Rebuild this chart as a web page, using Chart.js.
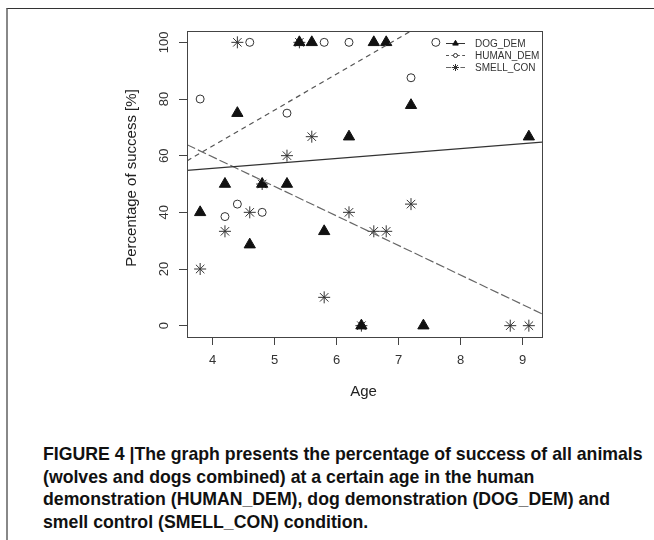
<!DOCTYPE html>
<html><head><meta charset="utf-8">
<script src="https://cdn.jsdelivr.net/npm/chart.js@4/dist/chart.umd.min.js"></script>
<style>
html,body{margin:0;padding:0;background:#fff;}
body{width:654px;height:540px;position:relative;overflow:hidden;font-family:"Liberation Sans",Arial,sans-serif;}
#frame{position:absolute;left:6px;top:8px;width:660px;height:600px;border-top:1px solid #333;border-left:2px solid #888;}
#wrap{position:absolute;left:0;top:0;width:654px;height:420px;}
#cap{position:absolute;left:43px;top:443px;font-weight:bold;font-size:17.7px;line-height:22.6px;color:#111;white-space:nowrap;}
</style></head>
<body>
<div id="frame"></div>
<div id="wrap"><canvas id="c" width="654" height="420"></canvas></div>
<div id="cap">FIGURE 4 |The graph presents the percentage of success of all animals<br>(wolves and dogs combined) at a certain age in the human<br>demonstration (HUMAN_DEM), dog demonstration (DOG_DEM) and<br>smell control (SMELL_CON) condition.</div>
<script>
// ---- data ----
const seriesNames = ['DOG_DEM', 'HUMAN_DEM', 'SMELL_CON'];
const dogAge   = [3.8, 4.2, 4.4, 4.6, 4.8, 5.2, 5.4, 5.6, 5.8, 6.2, 6.4, 6.6, 6.8, 7.2, 7.4, 9.1];
const dogPct   = [40, 50, 75, 28.6, 50, 50, 100, 100, 33.3, 66.7, 0, 100, 100, 77.8, 0, 66.7];
const humanAge = [3.8, 4.2, 4.4, 4.6, 4.8, 5.2, 5.8, 6.2, 7.2, 7.6];
const humanPct = [80, 38.5, 42.9, 100, 40, 75, 100, 100, 87.5, 100];
const smellAge = [3.8, 4.2, 4.4, 4.6, 4.8, 5.2, 5.4, 5.6, 5.8, 6.2, 6.4, 6.6, 6.8, 7.2, 8.8, 9.1];
const smellPct = [20, 33.3, 100, 40, 50, 60, 100, 66.7, 10, 40, 0, 33.3, 33.3, 42.9, 0, 0];
// regression lines: [intercept, slope]
const dogFit   = [48.5, 1.75];
const humanFit = [12.6, 12.7];
const smellFit = [101.3, -10.43];
const xTicks = [4, 5, 6, 7, 8, 9];
const yTicks = [0, 20, 40, 60, 80, 100];
const xTitle = 'Age';
const yTitle = 'Percentage of success [%]';

// R-style 4% axis extension
const allX = dogAge.concat(humanAge, smellAge);
const allY = dogPct.concat(humanPct, smellPct);
const xr = [Math.min(...allX), Math.max(...allX)];
const yr = [Math.min(...allY), Math.max(...allY)];
const xMin = xr[0] - 0.04 * (xr[1] - xr[0]), xMax = xr[1] + 0.04 * (xr[1] - xr[0]);
const yMin = yr[0] - 0.04 * (yr[1] - yr[0]), yMax = yr[1] + 0.04 * (yr[1] - yr[0]);

const pts = (xs, ys) => xs.map((x, i) => ({x: x, y: ys[i]}));
const fitLine = f => [{x: xMin, y: f[0] + f[1] * xMin}, {x: xMax, y: f[0] + f[1] * xMax}];

const FONT = '"Liberation Sans", Arial, sans-serif';
const styles = [
  {ps: 'triangle', r: 6.5, bg: '#111', bc: '#111', dash: [], lc: '#333', lr: 3.2},
  {ps: 'circle', r: 4, bg: 'rgba(0,0,0,0)', bc: '#333', dash: [5, 4], lc: '#555', lr: 2},
  {ps: 'star', r: 6, bg: 'rgba(0,0,0,0)', bc: '#333', dash: [9, 3], lc: '#666', lr: 3.5}
];

const overlay = {
  id: 'overlay',
  afterDraw(chart) {
    const ctx = chart.ctx, a = chart.chartArea, ys = chart.scales.y;
    ctx.save();
    ctx.strokeStyle = '#444'; ctx.lineWidth = 1;
    ctx.strokeRect(Math.round(a.left) + 0.5, Math.round(a.top) + 0.5, Math.round(a.right - a.left), Math.round(a.bottom - a.top));
    ctx.fillStyle = '#333'; ctx.font = '13px ' + FONT; ctx.textAlign = 'center'; ctx.textBaseline = 'middle';
    ys.ticks.forEach(t => {
      ctx.save(); ctx.translate(a.left - 23, ys.getPixelForValue(t.value)); ctx.rotate(-Math.PI / 2);
      ctx.fillText(String(t.value), 0, 0); ctx.restore();
    });
    ctx.font = '15px ' + FONT; ctx.fillStyle = '#222';
    ctx.save(); ctx.translate(a.left - 55, (a.top + a.bottom) / 2 - 6); ctx.rotate(-Math.PI / 2);
    ctx.fillText(yTitle, 0, 0); ctx.restore();
    ctx.fillText(xTitle, (a.left + a.right) / 2 - 1, a.bottom + 55);
    const lx = a.right - 96;
    ctx.font = '10px ' + FONT; ctx.textAlign = 'left';
    seriesNames.forEach((n, i) => {
      const s = styles[i], yy = a.top + 12.5 + i * 12;
      ctx.strokeStyle = s.lc; ctx.lineWidth = 1; ctx.setLineDash(s.dash.map(d => d * 0.6));
      ctx.beginPath(); ctx.moveTo(lx, yy); ctx.lineTo(lx + 19, yy); ctx.stroke();
      ctx.setLineDash([]);
      ctx.fillStyle = s.bg === 'rgba(0,0,0,0)' ? '#fff' : s.bg; ctx.strokeStyle = s.bc;
      Chart.helpers.drawPoint(ctx, {pointStyle: s.ps, rotation: 0, radius: s.lr, borderWidth: 1}, lx + 9.5, yy);
      ctx.fillStyle = '#333';
      ctx.fillText(n, lx + 29, yy + 0.5);
    });
    ctx.restore();
  }
};

new Chart(document.getElementById('c'), {
  type: 'scatter',
  data: {
    datasets: [
      {label: 'DOG_DEM fit', data: fitLine(dogFit), showLine: true, pointRadius: 0, borderColor: styles[0].lc, borderWidth: 1.2, borderDash: styles[0].dash, clip: 0},
      {label: 'HUMAN_DEM fit', data: fitLine(humanFit), showLine: true, pointRadius: 0, borderColor: styles[1].lc, borderWidth: 1.2, borderDash: styles[1].dash, clip: 0},
      {label: 'SMELL_CON fit', data: fitLine(smellFit), showLine: true, pointRadius: 0, borderColor: styles[2].lc, borderWidth: 1.2, borderDash: styles[2].dash, clip: 0},
      {label: seriesNames[0], data: pts(dogAge, dogPct), pointStyle: styles[0].ps, pointRadius: styles[0].r, backgroundColor: styles[0].bg, borderColor: styles[0].bc, borderWidth: 1},
      {label: seriesNames[1], data: pts(humanAge, humanPct), pointStyle: styles[1].ps, pointRadius: styles[1].r, backgroundColor: styles[1].bg, borderColor: styles[1].bc, borderWidth: 1},
      {label: seriesNames[2], data: pts(smellAge, smellPct), pointStyle: styles[2].ps, pointRadius: styles[2].r, backgroundColor: styles[2].bg, borderColor: styles[2].bc, borderWidth: 1}
    ]
  },
  options: {
    responsive: false, animation: false, devicePixelRatio: 1,
    layout: {padding: {left: 0, top: 31, right: 112, bottom: 0}},
    plugins: {legend: {display: false}, tooltip: {enabled: false}},
    scales: {
      x: {
        type: 'linear', min: xMin, max: xMax,
        afterFit(s) { s.height = 83; },
        afterBuildTicks(s) { s.ticks = xTicks.map(v => ({value: v})); },
        grid: {display: true, drawOnChartArea: false, drawTicks: true, tickLength: 8, color: '#444'},
        border: {display: true, color: '#444'},
        ticks: {padding: 8, color: '#333', font: {size: 13, family: FONT}, maxRotation: 0}
      },
      y: {
        type: 'linear', min: yMin, max: yMax,
        afterFit(s) { s.width = 187; },
        afterBuildTicks(s) { s.ticks = yTicks.map(v => ({value: v})); },
        grid: {display: true, drawOnChartArea: false, drawTicks: true, tickLength: 8, color: '#444'},
        border: {display: true, color: '#444'},
        ticks: {display: false}
      }
    }
  },
  plugins: [overlay]
});
</script>
</body></html>
